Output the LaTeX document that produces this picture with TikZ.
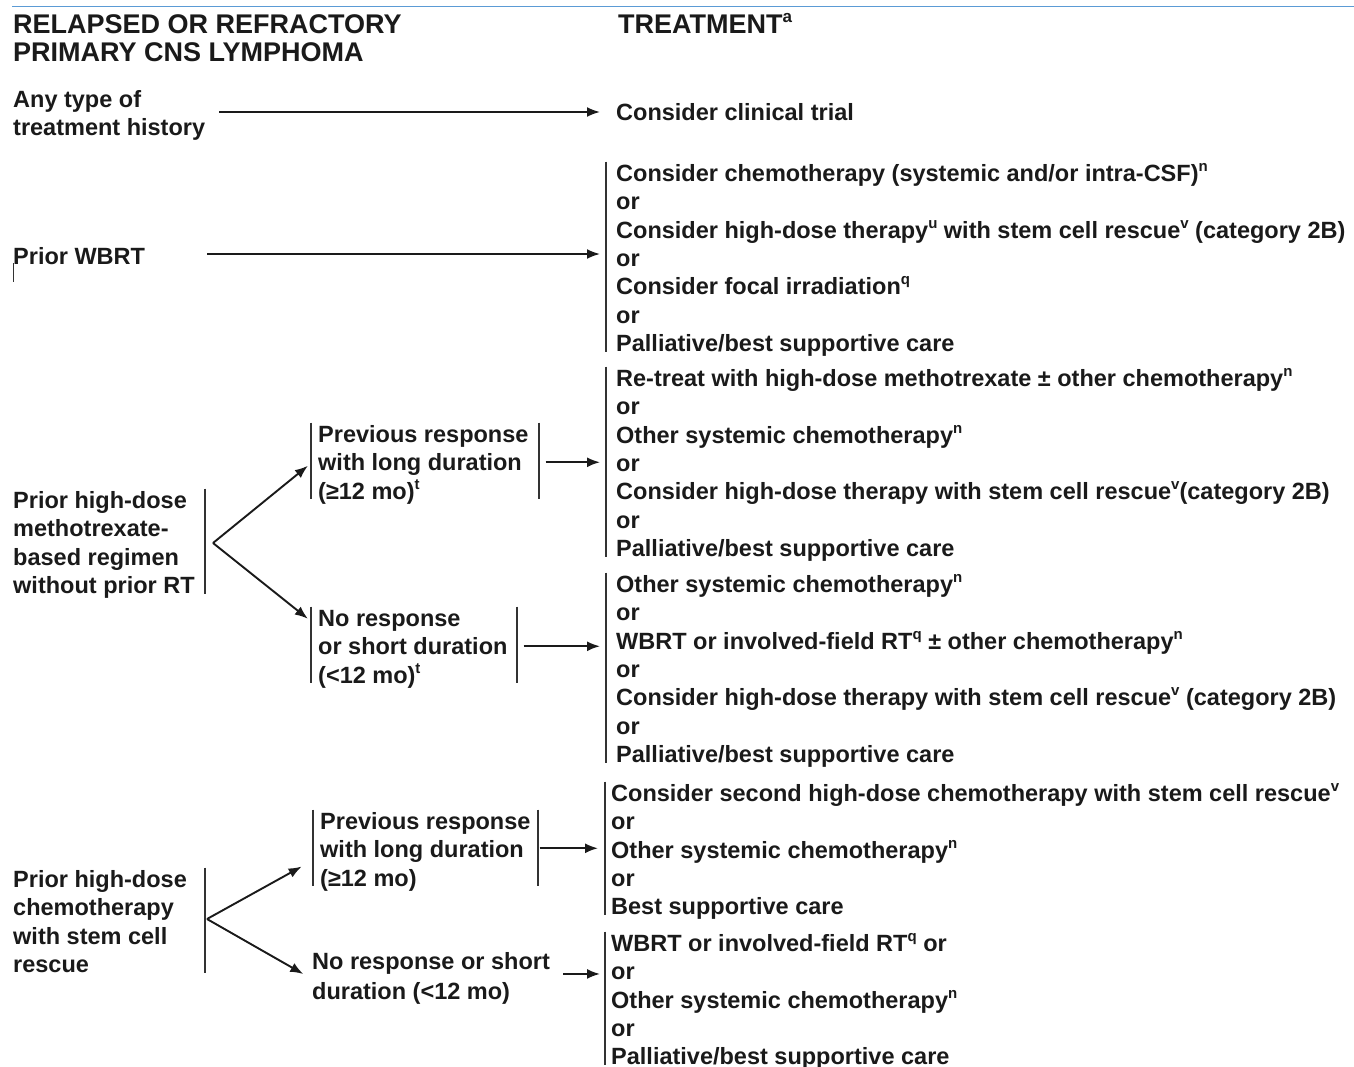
\documentclass[tikz,border=0pt]{standalone}
\usepackage{fontspec}
\setmainfont{Liberation Sans}
\usetikzlibrary{arrows.meta,calc}
\definecolor{ink}{HTML}{1A1A1A}
\definecolor{barc}{HTML}{333333}
\definecolor{topblue}{HTML}{5B9BD5}
\newcommand\bodyf{\fontsize{23.5}{28.3}\selectfont\bfseries}
\newcommand\headf{\fontsize{27}{28}\selectfont\bfseries}
\newcommand\spx[1]{\raisebox{10pt}{\fontsize{15}{15}\selectfont #1}}
\newcommand\spxh[1]{\raisebox{11.5pt}{\fontsize{17}{17}\selectfont #1}}
\begin{document}
\begin{tikzpicture}[x=1pt,y=-1pt,
  txt/.style={font=\bodyf, text=ink, align=left, inner sep=0pt},
  lst/.style={txt, inner ysep=0pt},
  bar/.style={draw=barc, line width=1.8pt},
  arr/.style={draw=ink, line width=1.9pt, -{Latex[length=13pt,width=10pt]}}]
\useasboundingbox[fill=white] (0,0) rectangle (1354,1066);
\draw[topblue, line width=1.3pt] (12,6.5) -- (1354,6.5);

% headers
\node[txt, font=\headf, anchor=north west] (title) at (13,14) {\strut RELAPSED OR REFRACTORY\\\strut PRIMARY CNS LYMPHOMA};
\node[txt, font=\headf, anchor=base west] (treat) at (618,33.6) {TREATMENT\spxh{a}};

% row 1
\node[txt, anchor=north west] (any) at (13,87.6) {\strut Any type of\\\strut treatment history};
\node[txt, anchor=base west] (trial) at (616,120.4) {Consider clinical trial};
\draw[arr, shorten <=14pt, shorten >=16pt] (any.east |- trial.west) -- (trial.west);

% row 2
\node[txt, anchor=base west] (wbrt) at (13,264.4) {Prior WBRT};
\draw[draw=barc, line width=0.8pt] (13,263) -- (13,282);
\node[lst, inner xsep=10pt, anchor=north west] (l2) at (606,161.6) {%
\strut Consider chemotherapy (systemic and/or intra-CSF)\spx{n}\\
\strut or\\
\strut Consider high-dose therapy\spx{u} with stem cell rescue\spx{v} (category 2B)\\
\strut or\\
\strut Consider focal irradiation\spx{q}\\
\strut or\\
\strut Palliative/best supportive care};
\draw[bar] (l2.north west) -- ([yshift=8.5pt]l2.south west);
\draw[arr, shorten <=62pt, shorten >=6pt] ($(wbrt.east)+(0,-2)$) -- ($(wbrt.east -| l2.west)+(0,-2)$);

% row 3
\node[txt, anchor=north west] (hdm) at (13,488.6) {\strut Prior high-dose\\\strut methotrexate-\\\strut based regimen\\\strut without prior RT};
\draw[bar] ($(hdm.north west)+(192,0)$) -- ($(hdm.south west)+(192,-8.5)$);
\coordinate (b3) at (213,543);

\node[lst, inner xsep=7pt, anchor=north west] (pr1) at (311,422.6) {\strut Previous response\\\strut with long duration\\\strut (≥12 mo)\spx{t}};
\draw[bar] (pr1.north west) -- ([yshift=8.5pt]pr1.south west);
\draw[bar] ([xshift=3pt]pr1.north east) -- ([xshift=3pt,yshift=8.5pt]pr1.south east);

\node[lst, inner xsep=10pt, anchor=north west] (l3a) at (606,366.6) {%
\strut Re-treat with high-dose methotrexate ± other chemotherapy\spx{n}\\
\strut or\\
\strut Other systemic chemotherapy\spx{n}\\
\strut or\\
\strut Consider high-dose therapy with stem cell rescue\spx{v}(category 2B)\\
\strut or\\
\strut Palliative/best supportive care};
\draw[bar] (l3a.north west) -- ([yshift=8.5pt]l3a.south west);
\draw[arr, shorten <=10pt, shorten >=6pt] ($(pr1.east)+(0,-3)$) -- ($(pr1.east -| l3a.west)+(0,-3)$);

\node[lst, inner xsep=7pt, anchor=north west] (nr1) at (311,606.6) {\strut No response\\\strut or short duration\\\strut (<12 mo)\spx{t}};
\draw[bar] (nr1.north west) -- ([yshift=8.5pt]nr1.south west);
\draw[bar] ([xshift=2pt]nr1.north east) -- ([xshift=2pt,yshift=8.5pt]nr1.south east);

\node[lst, inner xsep=10pt, anchor=north west] (l3b) at (606,572.6) {%
\strut Other systemic chemotherapy\spx{n}\\
\strut or\\
\strut WBRT or involved-field RT\spx{q} ± other chemotherapy\spx{n}\\
\strut or\\
\strut Consider high-dose therapy with stem cell rescue\spx{v} (category 2B)\\
\strut or\\
\strut Palliative/best supportive care};
\draw[bar] (l3b.north west) -- ([yshift=8.5pt]l3b.south west);
\draw[arr, shorten <=9pt, shorten >=6pt] ($(nr1.east)+(0,-3)$) -- ($(nr1.east -| l3b.west)+(0,-3)$);

\draw[arr, shorten >=4pt] (b3) -- ([yshift=2pt]pr1.west);
\draw[arr, shorten >=4pt] (b3) -- ([yshift=28pt]nr1.west);

% row 4
\node[txt, anchor=north west] (hdc) at (13,867.6) {\strut Prior high-dose\\\strut chemotherapy\\\strut with stem cell\\\strut rescue};
\draw[bar] ($(hdc.north west)+(192,0)$) -- ($(hdc.south west)+(192,-8.5)$);
\coordinate (b4) at (207,919);

\node[lst, inner xsep=7pt, anchor=north west] (pr2) at (313,809.6) {\strut Previous response\\\strut with long duration\\\strut (≥12 mo)};
\draw[bar] (pr2.north west) -- ([yshift=8.5pt]pr2.south west);
\draw[bar] (pr2.north east) -- ([yshift=8.5pt]pr2.south east);

\node[lst, inner xsep=6pt, anchor=north west] (l4a) at (605,781.6) {%
\strut Consider second high-dose chemotherapy with stem cell rescue\spx{v}\\
\strut or\\
\strut Other systemic chemotherapy\spx{n}\\
\strut or\\
\strut Best supportive care};
\draw[bar] (l4a.north west) -- ([yshift=8.5pt]l4a.south west);
\draw[arr, shorten <=2pt, shorten >=7pt] ($(pr2.east)+(0,-4)$) -- ($(pr2.east -| l4a.west)+(0,-4)$);

\node[txt, anchor=north west] (nr2) at (312,949.6) {\strut No response or short\\[1.7pt]\strut duration (<12 mo)};

\node[lst, inner xsep=6pt, anchor=north west] (l4b) at (605,931.6) {%
\strut WBRT or involved-field RT\spx{q} or\\
\strut or\\
\strut Other systemic chemotherapy\spx{n}\\
\strut or\\
\strut Palliative/best supportive care};
\draw[bar] (l4b.north west) -- ([yshift=8.5pt]l4b.south west);
\draw[arr, shorten <=13pt, shorten >=5pt] ($(nr2.east)+(0,-5)$) -- ($(nr2.east -| l4b.west)+(0,-5)$);

\draw[arr, shorten >=13pt] (b4) -- ([yshift=-8pt]pr2.west);
\draw[arr, shorten >=10pt] (b4) -- (nr2.west);
\end{tikzpicture}
\end{document}
